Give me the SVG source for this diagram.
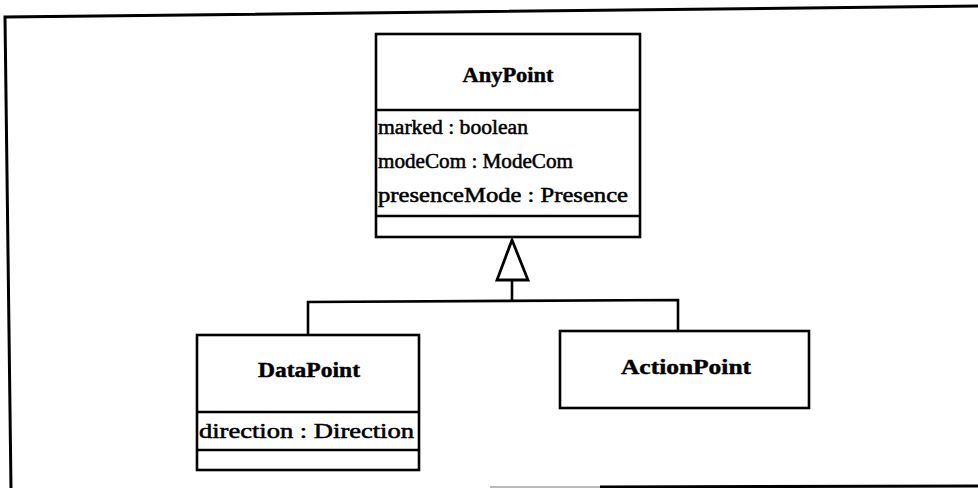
<svg xmlns="http://www.w3.org/2000/svg" width="978" height="488" viewBox="0 0 978 488">
  <style>
    .box { fill: #fff; stroke: #000; stroke-width: 2.6; }
    .sep { stroke: #000; stroke-width: 2.4; fill: none; }
    .name { font-family: "Liberation Serif", "Times New Roman", serif; font-weight: bold; font-size: 20px; fill: #000; stroke: #000; stroke-width: 0.4; text-anchor: middle; }
    .attr { font-family: "Liberation Serif", "Times New Roman", serif; font-size: 20px; fill: #000; stroke: #000; stroke-width: 0.5; }
    .edge { stroke: #000; stroke-width: 2.6; fill: none; }
    .frame { stroke: #000; stroke-width: 3; fill: none; }
  </style>

  <rect width="978" height="488" fill="#fff"/>

  <!-- outer frame, slightly skewed -->
  <path class="frame" d="M978 6 L5 17 L11 488"/>
  <line x1="490" y1="487" x2="600" y2="487" stroke="#bbb" stroke-width="2"/>
  <line x1="600" y1="487" x2="978" y2="486" stroke="#000" stroke-width="3"/>

  <!-- generalization connectors: shared hollow triangle into AnyPoint -->
  <g id="connectors">
    <path class="edge" d="M512 280 L512 301"/>
    <path class="edge" d="M308 336 L308 302 L678 300 L678 331"/>
    <path d="M512 240 L528 280 L497 280 Z" fill="#fff" stroke="#000" stroke-width="2.8" stroke-linejoin="miter"/>
  </g>

  <g id="AnyPoint">
    <rect class="box" x="376" y="34" width="264" height="203"/>
    <line class="sep" x1="376" y1="110" x2="640" y2="110"/>
    <line class="sep" x1="376" y1="216" x2="640" y2="216"/>
    <text class="name" x="508" y="82" textLength="91" lengthAdjust="spacingAndGlyphs">AnyPoint</text>
    <text class="attr" x="378" y="134" textLength="150" lengthAdjust="spacingAndGlyphs">marked : boolean</text>
    <text class="attr" x="378" y="168" textLength="195" lengthAdjust="spacingAndGlyphs">modeCom : ModeCom</text>
    <text class="attr" x="378" y="202" textLength="250" lengthAdjust="spacingAndGlyphs">presenceMode : Presence</text>
  </g>

  <g id="DataPoint">
    <rect class="box" x="197" y="335" width="222" height="135"/>
    <line class="sep" x1="197" y1="412" x2="419" y2="412"/>
    <line class="sep" x1="197" y1="450" x2="419" y2="450"/>
    <text class="name" x="309" y="377" textLength="102" lengthAdjust="spacingAndGlyphs">DataPoint</text>
    <text class="attr" x="199" y="438" textLength="215" lengthAdjust="spacingAndGlyphs">direction : Direction</text>
  </g>

  <g id="ActionPoint">
    <rect class="box" x="560" y="331" width="249" height="77"/>
    <text class="name" x="686" y="374" textLength="130" lengthAdjust="spacingAndGlyphs">ActionPoint</text>
  </g>
</svg>
